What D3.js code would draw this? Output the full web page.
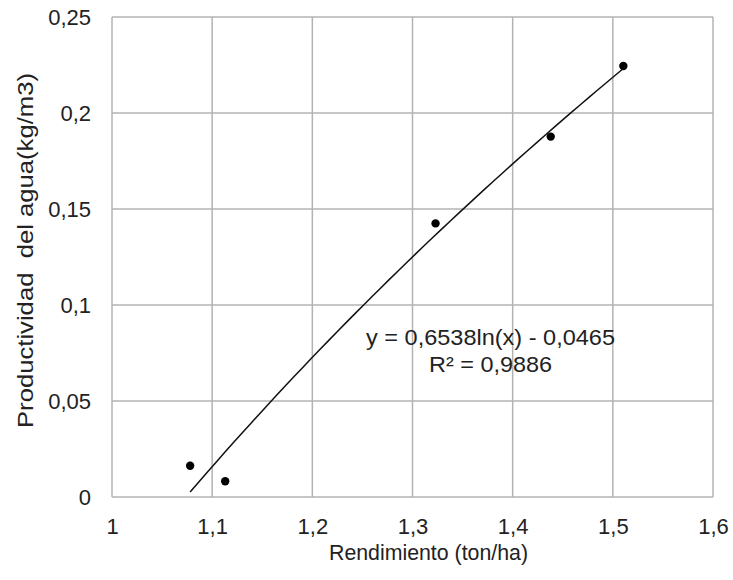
<!DOCTYPE html>
<html>
<head>
<meta charset="utf-8">
<script src="https://cdn.jsdelivr.net/npm/d3@7"></script>
<style>
  html, body { margin: 0; padding: 0; background: #fff; }
  svg text { font-family: "Liberation Sans", Arial, sans-serif; fill: #222; }
</style>
</head>
<body>
<svg id="chart" width="733" height="580"></svg>
<script>
// Data
const rendimiento = [1.078, 1.113, 1.323, 1.438, 1.5105];
const productividad = [0.0163, 0.0082, 0.1425, 0.1877, 0.2245];
const xTicks = [1.0, 1.1, 1.2, 1.3, 1.4, 1.5, 1.6];
const yTicks = [0, 0.05, 0.1, 0.15, 0.2, 0.25];
const trendCoef = [0.6538, -0.0465]; // y = a ln(x) + b
const trendRange = [1.078, 1.5105];
const equationText = "y = 0,6538ln(x) - 0,0465";
const r2Text = "R² = 0,9886";
const xTitle = "Rendimiento (ton/ha)";
const yTitle = "Productividad  del agua(kg/m3)";

const svg = d3.select("#chart");
const mLeft = 112, mRight = 713, mTop = 17, mBottom = 497;

const x = d3.scaleLinear().domain([1.0, 1.6]).range([mLeft, mRight]);
const y = d3.scaleLinear().domain([0, 0.25]).range([mBottom, mTop]);
const fmt = d => String(+d.toFixed(2)).replace(".", ",");

const gridColor = "#b3b3b3";
// gridlines
svg.append("g").selectAll("line").data(xTicks).join("line")
  .attr("x1", d => x(d)).attr("x2", d => x(d))
  .attr("y1", mTop).attr("y2", mBottom)
  .attr("stroke", gridColor).attr("stroke-width", 1.5);
svg.append("g").selectAll("line").data(yTicks).join("line")
  .attr("y1", d => y(d)).attr("y2", d => y(d))
  .attr("x1", mLeft).attr("x2", mRight)
  .attr("stroke", gridColor).attr("stroke-width", 1.5);

// axes (labels only)
const xAxis = d3.axisBottom(x).tickValues(xTicks).tickFormat(fmt).tickSize(0).tickPadding(21);
const gx = svg.append("g").attr("transform", `translate(0,${mBottom})`).call(xAxis);
gx.select(".domain").remove();
gx.selectAll("text").attr("font-size", 22).attr("fill", "#222")
  .attr("font-family", '"Liberation Sans", Arial, sans-serif');

const yAxis = d3.axisLeft(y).tickValues(yTicks).tickFormat(fmt).tickSize(0).tickPadding(21);
const gy = svg.append("g").attr("transform", `translate(${mLeft},0)`).call(yAxis);
gy.select(".domain").remove();
gy.selectAll("text").attr("font-size", 22).attr("fill", "#222")
  .attr("font-family", '"Liberation Sans", Arial, sans-serif');

// trendline
const lineGen = d3.line().x(d => x(d)).y(d => y(trendCoef[0] * Math.log(d) + trendCoef[1]));
const xs = d3.range(0, 51).map(i => trendRange[0] + (trendRange[1] - trendRange[0]) * i / 50);
svg.append("path").datum(xs).attr("d", lineGen)
  .attr("fill", "none").attr("stroke", "#111").attr("stroke-width", 1.5);

// points
svg.append("g").selectAll("circle").data(rendimiento).join("circle")
  .attr("cx", d => x(d)).attr("cy", (d, i) => y(productividad[i]))
  .attr("r", 4.2).attr("fill", "#000");

// equation
svg.append("text").attr("x", 490.5).attr("y", 345).attr("text-anchor", "middle")
  .attr("font-size", 22).attr("textLength", 249).attr("lengthAdjust", "spacingAndGlyphs")
  .text(equationText);
svg.append("text").attr("x", 490.5).attr("y", 372).attr("text-anchor", "middle")
  .attr("font-size", 22).attr("textLength", 123).attr("lengthAdjust", "spacingAndGlyphs")
  .text(r2Text);

// titles
svg.append("text").attr("x", 428.5).attr("y", 560).attr("text-anchor", "middle")
  .attr("font-size", 22).attr("textLength", 199).attr("lengthAdjust", "spacingAndGlyphs")
  .text(xTitle);
svg.append("text").attr("transform", `translate(33,250.5) rotate(-90)`)
  .attr("text-anchor", "middle").attr("font-size", 22)
  .attr("textLength", 355).attr("lengthAdjust", "spacingAndGlyphs")
  .style("white-space", "pre").text(yTitle);
</script>
</body>
</html>
